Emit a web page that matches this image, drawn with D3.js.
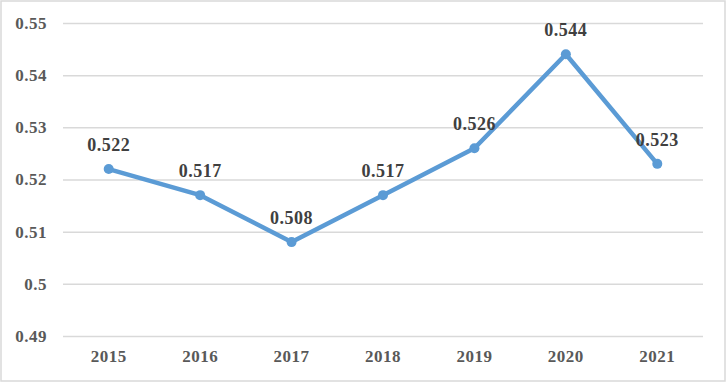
<!DOCTYPE html>
<html>
<head>
<meta charset="utf-8">
<script src="https://cdn.jsdelivr.net/npm/d3@7"></script>
<style>
  body { margin: 0; background: #fff; }
  svg { display: block; }
  text { font-family: "Liberation Serif", "Times New Roman", serif; font-weight: bold; }
</style>
</head>
<body>
<svg id="chart"></svg>
<script>
// Chart data
const years = ["2015", "2016", "2017", "2018", "2019", "2020", "2021"];
const values = [0.522, 0.517, 0.508, 0.517, 0.526, 0.544, 0.523];
const yTicks = [0.49, 0.5, 0.51, 0.52, 0.53, 0.54, 0.55];

const width = 727, height = 383;
const margin = { top: 23, right: 24, bottom: 47, left: 63 };

const svg = d3.select("#chart")
    .attr("width", width)
    .attr("height", height);

// Outer border of the chart area
svg.append("rect")
    .attr("x", 1).attr("y", 1)
    .attr("width", width - 3).attr("height", height - 3)
    .attr("fill", "#fff")
    .attr("stroke", "#d9d9d9")
    .attr("stroke-width", 1.5);

const x = d3.scaleBand()
    .domain(years)
    .range([margin.left, width - margin.right]);

const y = d3.scaleLinear()
    .domain([0.49, 0.55])
    .range([height - margin.bottom, margin.top]);

// Horizontal gridlines and y labels
const yAxis = svg.append("g")
    .attr("transform", `translate(${margin.left},0)`)
    .call(d3.axisLeft(y)
        .tickValues(yTicks)
        .tickSize(-(width - margin.left - margin.right))
        .tickPadding(16)
        .tickFormat(d => d3.format("~g")(d)));
yAxis.attr("font-family", null).attr("font-size", null);
yAxis.select(".domain").remove();
yAxis.selectAll(".tick line")
    .attr("stroke", "#d9d9d9")
    .attr("stroke-width", 1.5);
yAxis.selectAll(".tick text")
    .attr("fill", "#595959")
    .style("font-size", "17px")
    .style("letter-spacing", "0.5px");

// X labels
const xAxis = svg.append("g")
    .attr("transform", `translate(0,${height - margin.bottom})`)
    .call(d3.axisBottom(x).tickSize(0).tickPadding(14));
xAxis.attr("font-family", null).attr("font-size", null);
xAxis.select(".domain").remove();
xAxis.selectAll(".tick text")
    .attr("fill", "#595959")
    .style("font-size", "17px")
    .style("letter-spacing", "0.5px");

const cx = d => x(d) + x.bandwidth() / 2;

// Line
const line = d3.line()
    .x((d, i) => cx(years[i]))
    .y(d => y(d));

svg.append("path")
    .datum(values)
    .attr("d", line)
    .attr("fill", "none")
    .attr("stroke", "#5b9bd5")
    .attr("stroke-width", 4.5)
    .attr("stroke-linejoin", "round");

// Markers
svg.selectAll(".dot")
    .data(values)
    .enter()
    .append("circle")
    .attr("class", "dot")
    .attr("cx", (d, i) => cx(years[i]))
    .attr("cy", d => y(d))
    .attr("r", 5)
    .attr("fill", "#5b9bd5");

// Data labels
svg.selectAll(".label")
    .data(values)
    .enter()
    .append("text")
    .attr("class", "label")
    .attr("x", (d, i) => cx(years[i]))
    .attr("y", d => y(d) - 18)
    .attr("text-anchor", "middle")
    .attr("fill", "#404040")
    .style("font-size", "18px")
    .style("letter-spacing", "0.5px")
    .text(d => d3.format(".3f")(d));
</script>
</body>
</html>
